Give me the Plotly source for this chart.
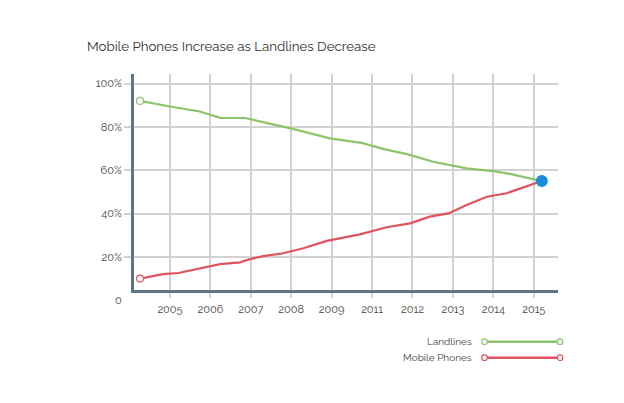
import plotly.graph_objects as go

# ---- data ----
tick_positions = [0, 1, 2, 3, 4, 5, 6, 7, 8, 9]
tick_labels = ["2005", "2006", "2007", "2008", "2009", "2011", "2012", "2013", "2014", "2015"]

landline_t = [-0.74, -0.25, 0.0, 0.74, 1.24, 1.86, 2.48, 2.99, 3.96, 4.33, 4.74,
              5.32, 5.89, 6.51, 7.34, 8.0, 8.41, 9.2]
landline_pct = [92.0, 90.1, 89.4, 87.1, 84.2, 84.1, 81.6, 79.3, 74.7, 73.6, 72.6,
                69.6, 67.3, 63.9, 60.9, 59.6, 58.3, 55.0]

mobile_t = [-0.74, -0.17, 0.21, 0.74, 1.24, 1.73, 1.98, 2.31, 2.80, 3.30, 3.88,
            4.70, 5.36, 5.94, 6.43, 6.89, 7.34, 7.84, 8.33, 9.2]
mobile_pct = [10.0, 12.1, 12.6, 14.8, 16.7, 17.5, 19.0, 20.4, 21.7, 24.0, 27.4,
              30.4, 33.7, 35.5, 38.6, 40.1, 44.0, 47.8, 49.4, 55.0]

y_ticks = [20, 40, 60, 80, 100]
y_labels = ["20%", "40%", "60%", "80%", "100%"]

series_names = ["Landlines", "Mobile Phones"]

GREEN = "#8cc46a"
RED = "#e0525e"
BLUE = "#1a8cd8"
AXIS = "#5d7588"
GRID = "#d2d2d2"
FONT = "Raleway, Lato, sans-serif"

fig = go.Figure()

for t, v, c, name in [(landline_t, landline_pct, GREEN, series_names[0]),
                      (mobile_t, mobile_pct, RED, series_names[1])]:
    fig.add_trace(go.Scatter(
        x=t, y=v, mode="lines", name=name,
        line=dict(color=c, width=2.2), showlegend=False, hoverinfo="skip"))
    fig.add_trace(go.Scatter(
        x=[t[0]], y=[v[0]], mode="markers", showlegend=False,
        marker=dict(size=7, color="white", line=dict(color=c, width=1.2))))

fig.add_trace(go.Scatter(
    x=[landline_t[-1]], y=[landline_pct[-1]], mode="markers", showlegend=False,
    marker=dict(size=12, color=BLUE)))

# page offset of the figure div (body margin)
OFF = 8
# plot area in page pixels: x 134..558, y 74..290
W, H = 624, 403
L, R, T, B = 134, 558, 74, 290
pw, ph = R - L, B - T

def px(x):
    return (x - L) / pw

def py(y):
    return (B - y) / ph

shapes = []
annotations = []
legend_rows = [(series_names[0], GREEN, 341.7), (series_names[1], RED, 357.7)]
for name, col, yy in legend_rows:
    shapes.append(dict(type="line", xref="paper", yref="paper",
                       x0=px(484.5), x1=px(560), y0=py(yy), y1=py(yy),
                       line=dict(color=col, width=2.5)))
    for xx in (484.5, 560):
        shapes.append(dict(type="circle", xref="paper", yref="paper",
                           xsizemode="pixel", ysizemode="pixel",
                           xanchor=px(xx), yanchor=py(yy),
                           x0=-2.8, x1=2.8, y0=-2.8, y1=2.8,
                           fillcolor="white", line=dict(color=col, width=1.2)))
    annotations.append(dict(text=name, xref="paper", yref="paper",
                            x=px(474), y=py(yy), xanchor="right", yanchor="middle",
                            showarrow=False, font=dict(size=10, color="#444", family=FONT)))

annotations.append(dict(text="0", xref="paper", yref="paper", x=px(123.5), y=py(300.5),
                        xanchor="right", yanchor="middle", showarrow=False,
                        font=dict(size=11, color="#444", family=FONT)))

fig.update_layout(
    width=W, height=H,
    margin=dict(l=L - OFF, r=W - R + OFF, t=T - OFF, b=H - B + OFF),
    paper_bgcolor="white", plot_bgcolor="white",
    title=dict(text="Mobile Phones Increase as Landlines Decrease",
               xref="container", yref="container", x=(87 - OFF) / W, y=1 - (46 - OFF) / H,
               xanchor="left", yanchor="middle",
               font=dict(size=13.3, color="#333", family=FONT)),
    font=dict(family=FONT, color="#444", size=11),
    shapes=shapes, annotations=annotations,
    showlegend=False,
)
fig.update_xaxes(
    range=[-0.89, 9.6], tickvals=tick_positions, ticktext=tick_labels,
    showgrid=True, gridcolor=GRID, gridwidth=1.5,
    showline=True, linecolor=AXIS, linewidth=3,
    ticks="outside", ticklen=5, tickcolor=GRID, tickwidth=1.5,
    ticklabelstandoff=2, zeroline=False,
    tickfont=dict(size=11, color="#444"))
fig.update_yaxes(
    range=[4.75, 104.4], tickvals=y_ticks, ticktext=y_labels,
    showgrid=True, gridcolor=GRID, gridwidth=1.5,
    showline=True, linecolor=AXIS, linewidth=3,
    ticks="outside", ticklen=7, tickcolor=GRID, tickwidth=1.5,
    ticklabelstandoff=0, zeroline=False,
    tickfont=dict(size=11, color="#444"))

fig.write_html("out.html")
